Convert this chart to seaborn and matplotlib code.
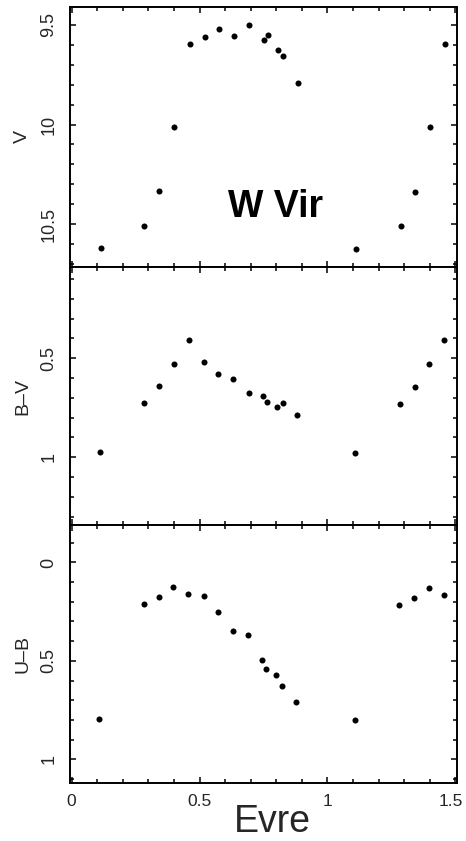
import matplotlib
matplotlib.use("Agg")
import matplotlib.pyplot as plt
import matplotlib.transforms as mtransforms
import seaborn as sns
import pandas as pd
from matplotlib.ticker import MultipleLocator, FuncFormatter

# ---- data ----
phase_v = [0.114, 0.283, 0.343, 0.402, 0.461, 0.522, 0.577, 0.635, 0.694, 0.751,
           0.766, 0.807, 0.828, 0.884, 1.111, 1.286, 1.342, 1.401, 1.460]
v_mag = [10.62, 10.507, 10.333, 10.012, 9.595, 9.56, 9.52, 9.555, 9.498, 9.578,
         9.55, 9.628, 9.658, 9.793, 10.625, 10.508, 10.337, 10.013, 9.598]

phase_bv = [0.111, 0.283, 0.342, 0.400, 0.459, 0.518, 0.573, 0.632, 0.692, 0.748,
            0.764, 0.803, 0.825, 0.880, 1.108, 1.283, 1.341, 1.398, 1.456]
b_v = [0.975, 0.727, 0.640, 0.527, 0.406, 0.519, 0.579, 0.603, 0.677, 0.689,
       0.722, 0.744, 0.726, 0.788, 0.977, 0.731, 0.643, 0.530, 0.409]

phase_ub = [0.106, 0.282, 0.340, 0.397, 0.455, 0.516, 0.571, 0.629, 0.688, 0.744,
            0.760, 0.800, 0.821, 0.877, 1.106, 1.281, 1.339, 1.398, 1.455]
u_b = [0.796, 0.213, 0.176, 0.124, 0.158, 0.168, 0.251, 0.347, 0.371, 0.496,
       0.542, 0.571, 0.630, 0.708, 0.801, 0.217, 0.181, 0.129, 0.164]

x_ticks = [0, 0.5, 1, 1.5]
v_ticks = [9.5, 10, 10.5]
bv_ticks = [0.5, 1]
ub_ticks = [0, 0.5, 1]

sns.set_theme(style="white")
plt.rcParams['font.family'] = ['Liberation Sans', 'DejaVu Sans']

fig = plt.figure(figsize=(4.66, 8.41), dpi=100)
left, width = 0.1502, 0.8305
ax1 = fig.add_axes([left, 0.6825, width, 0.3092])
ax2 = fig.add_axes([left, 0.3757, width, 0.3068])
ax3 = fig.add_axes([left, 0.0686, width, 0.3071])

fmt = FuncFormatter(lambda v, p: f"{v:g}")

panels = [
    (ax1, phase_v, v_mag, "V", v_ticks, (10.715, 9.41)),
    (ax2, phase_bv, b_v, "B\u2013V", bv_ticks, (1.342, 0.04)),
    (ax3, phase_ub, u_b, "U\u2013B", ub_ticks, (1.122, -0.19)),
]

for ax, xs, ys, lab, yt, yl in panels:
    df = pd.DataFrame({"phase": xs, "val": ys})
    sns.scatterplot(data=df, x="phase", y="val", ax=ax, color="black",
                    s=19, edgecolor="black", linewidth=0, legend=False)
    ax.set_xlim(-0.006, 1.506)
    ax.set_ylim(*yl)
    ax.set_xticks(x_ticks)
    ax.set_yticks(yt)
    ax.xaxis.set_minor_locator(MultipleLocator(0.1))
    ax.yaxis.set_minor_locator(MultipleLocator(0.1))
    ax.xaxis.set_major_formatter(fmt)
    ax.yaxis.set_major_formatter(fmt)
    for sp in ax.spines.values():
        sp.set_linewidth(1.4)
        sp.set_color("black")
        sp.set_visible(True)
    ax.tick_params(which="both", direction="in", top=True, right=True,
                   left=True, bottom=True, color="black", width=1.1)
    ax.tick_params(which="major", length=4.5)
    ax.tick_params(which="minor", length=3)
    ax.tick_params(axis="y", labelrotation=90, labelsize=13, pad=9)
    for t in ax.get_yticklabels():
        t.set_va("center")
    ax.tick_params(axis="x", labelsize=12.5, pad=8)
    ax.set_ylabel(lab, fontsize=14)
    ax.yaxis.set_label_coords(-0.10, 0.5)
    ax.set_xlabel("")

ax1.tick_params(axis="x", labelbottom=False)
ax2.tick_params(axis="x", labelbottom=False)

# nudge the last x tick label so it stays inside the figure
fig.canvas.draw()
last = ax3.get_xticklabels()[-1]
last.set_transform(last.get_transform() +
                   mtransforms.ScaledTranslation(-5 / 100, 0, fig.dpi_scale_trans))

ax1.text(0.797, 10.465, "W Vir", fontsize=27, fontweight="bold",
         ha="center", va="baseline", color="black")

ax3.set_xlabel("Evre", fontsize=27, va="center")
ax3.xaxis.set_label_coords(0.522, -0.15)

fig.savefig("out.png", dpi=100)
